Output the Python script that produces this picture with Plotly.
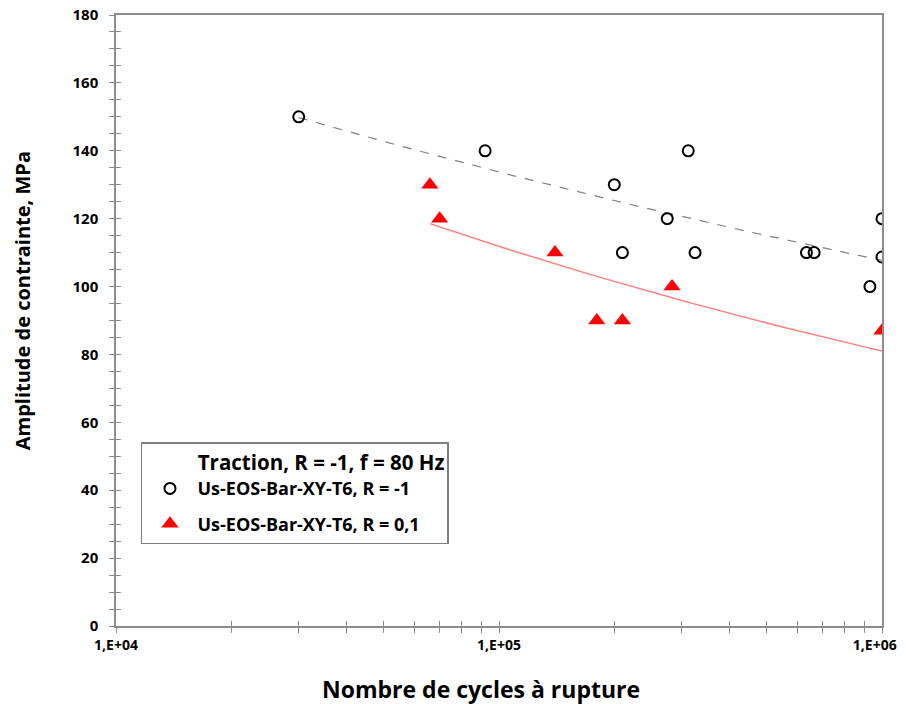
import numpy as np
import plotly.graph_objects as go

# ── DATA ──────────────────────────────────────────────────────────────────────
cycles_r_m1 = [30000, 92000, 200000, 312000, 275000, 210000, 325000,
               635000, 665000, 930000, 1000000, 1000000]
stress_r_m1 = [150, 140, 130, 140, 120, 110, 110, 110, 110, 100, 120, 108.7]

cycles_r_01 = [66000, 70000, 140000, 180000, 210000, 283000, 1000000]
stress_r_01 = [130, 120, 110, 90, 90, 100, 87]

legend_title = "Traction, R = -1, f = 80 Hz"
name_r_m1 = "Us-EOS-Bar-XY-T6, R = -1"
name_r_01 = "Us-EOS-Bar-XY-T6, R = 0,1"

x_tickvals = [1e4, 1e5, 1e6]
# trailing spaces keep the last label inside the page
x_ticktext = ["1,E+04", "1,E+05", "1,E+06&nbsp;&nbsp;&nbsp;&nbsp;"]


# ── power-law trendline (like Excel) ──────────────────────────────────────────
def power_fit(x, y):
    lx, ly = np.log10(x), np.log10(y)
    b, a = np.polyfit(lx, ly, 1)
    xs = np.logspace(lx.min(), lx.max(), 60)
    return xs, 10 ** a * xs ** b


fx1, fy1 = power_fit(np.array(cycles_r_m1), np.array(stress_r_m1))
fx2, fy2 = power_fit(np.array(cycles_r_01), np.array(stress_r_01))

fig = go.Figure()

fig.add_trace(go.Scatter(x=fx1, y=fy1, mode="lines", showlegend=False,
                         line=dict(color="#808080", width=1.2, dash="dash"),
                         hoverinfo="skip"))
fig.add_trace(go.Scatter(x=fx2, y=fy2, mode="lines", showlegend=False,
                         line=dict(color="#FF8080", width=1.5),
                         hoverinfo="skip"))

fig.add_trace(go.Scatter(
    x=cycles_r_m1, y=stress_r_m1, mode="markers", name=name_r_m1,
    legendgroup="a",
    marker=dict(symbol="circle-open", size=11, color="black",
                line=dict(width=2, color="black"))))
fig.add_trace(go.Scatter(
    x=cycles_r_01, y=stress_r_01, mode="markers", name=name_r_01,
    legendgroup="b",
    marker=dict(symbol="triangle-up", size=15, color="#FF0000")))

# second (overlay) axes only to get ticks crossing the axis line
fig.add_trace(go.Scatter(x=[1e4], y=[0], xaxis="x2", yaxis="y2",
                         mode="markers", marker=dict(opacity=0),
                         showlegend=False, hoverinfo="skip"))

axis_col = "#8C8C8C"
minor_x = [m * 10 ** e for e in (4, 5) for m in range(2, 10)]

fig.update_layout(
    width=906, height=704,
    margin=dict(l=108, r=32, t=7, b=86),
    plot_bgcolor="white", paper_bgcolor="white",
    font=dict(family="Open Sans", color="black"),
    xaxis=dict(
        type="log", range=[4, 6], automargin=False,
        tickvals=x_tickvals, ticktext=x_ticktext,
        tickfont=dict(size=14, weight="bold"), ticklabeloverflow="allow",
        ticks="outside", ticklen=5, tickcolor=axis_col, tickwidth=1.2,
        minor=dict(tickvals=minor_x, ticks="outside", ticklen=5,
                   tickcolor=axis_col, tickwidth=1.2),
        showline=True, linecolor=axis_col, linewidth=1.5, mirror=True,
        showgrid=False, zeroline=False,
    ),
    yaxis=dict(
        range=[0, 180], dtick=20, automargin=False,
        tickfont=dict(size=15, weight="bold"), ticklabeloverflow="allow",
        ticklabelstandoff=8,
        ticks="outside", ticklen=5, tickcolor=axis_col, tickwidth=1.2,
        minor=dict(dtick=5, ticks="outside", ticklen=5,
                   tickcolor=axis_col, tickwidth=1.2),
        showline=True, linecolor=axis_col, linewidth=1.5, mirror=True,
        showgrid=False, zeroline=False,
    ),
    xaxis2=dict(
        type="log", range=[4, 6], overlaying="x", anchor="y", automargin=False,
        tickvals=x_tickvals, showticklabels=False,
        ticks="inside", ticklen=5, tickcolor=axis_col, tickwidth=1.2,
        minor=dict(tickvals=minor_x, ticks="inside", ticklen=5,
                   tickcolor=axis_col, tickwidth=1.2),
        showgrid=False, zeroline=False, showline=False,
    ),
    yaxis2=dict(
        range=[0, 180], dtick=20, overlaying="y", anchor="x", automargin=False,
        showticklabels=False,
        ticks="inside", ticklen=5, tickcolor=axis_col, tickwidth=1.2,
        minor=dict(dtick=5, ticks="inside", ticklen=5,
                   tickcolor=axis_col, tickwidth=1.2),
        showgrid=False, zeroline=False, showline=False,
    ),
    legend=dict(
        x=0.0326, y=0.301, xanchor="left", yanchor="top",
        bgcolor="white", bordercolor="#7F7F7F", borderwidth=1.5,
        font=dict(size=18, weight="bold"),
        title=dict(text="&nbsp;&nbsp;&nbsp;&nbsp;&nbsp;&nbsp;&nbsp;&nbsp;&nbsp;&nbsp;" + legend_title,
                   font=dict(size=20.5), side="top"),
        traceorder="grouped", tracegroupgap=9, itemwidth=45,
    ),
)

fig.add_annotation(text="<b>Amplitude de contrainte, MPa</b>", textangle=-90,
                   xref="paper", yref="paper", x=-0.121, y=0.532,
                   xanchor="center", yanchor="middle", showarrow=False,
                   font=dict(size=20))
fig.add_annotation(text="<b>Nombre de cycles à rupture</b>",
                   xref="paper", yref="paper", x=0.4765, y=-0.103,
                   xanchor="center", yanchor="middle", showarrow=False,
                   font=dict(size=23))

fig.write_html("out.html")
